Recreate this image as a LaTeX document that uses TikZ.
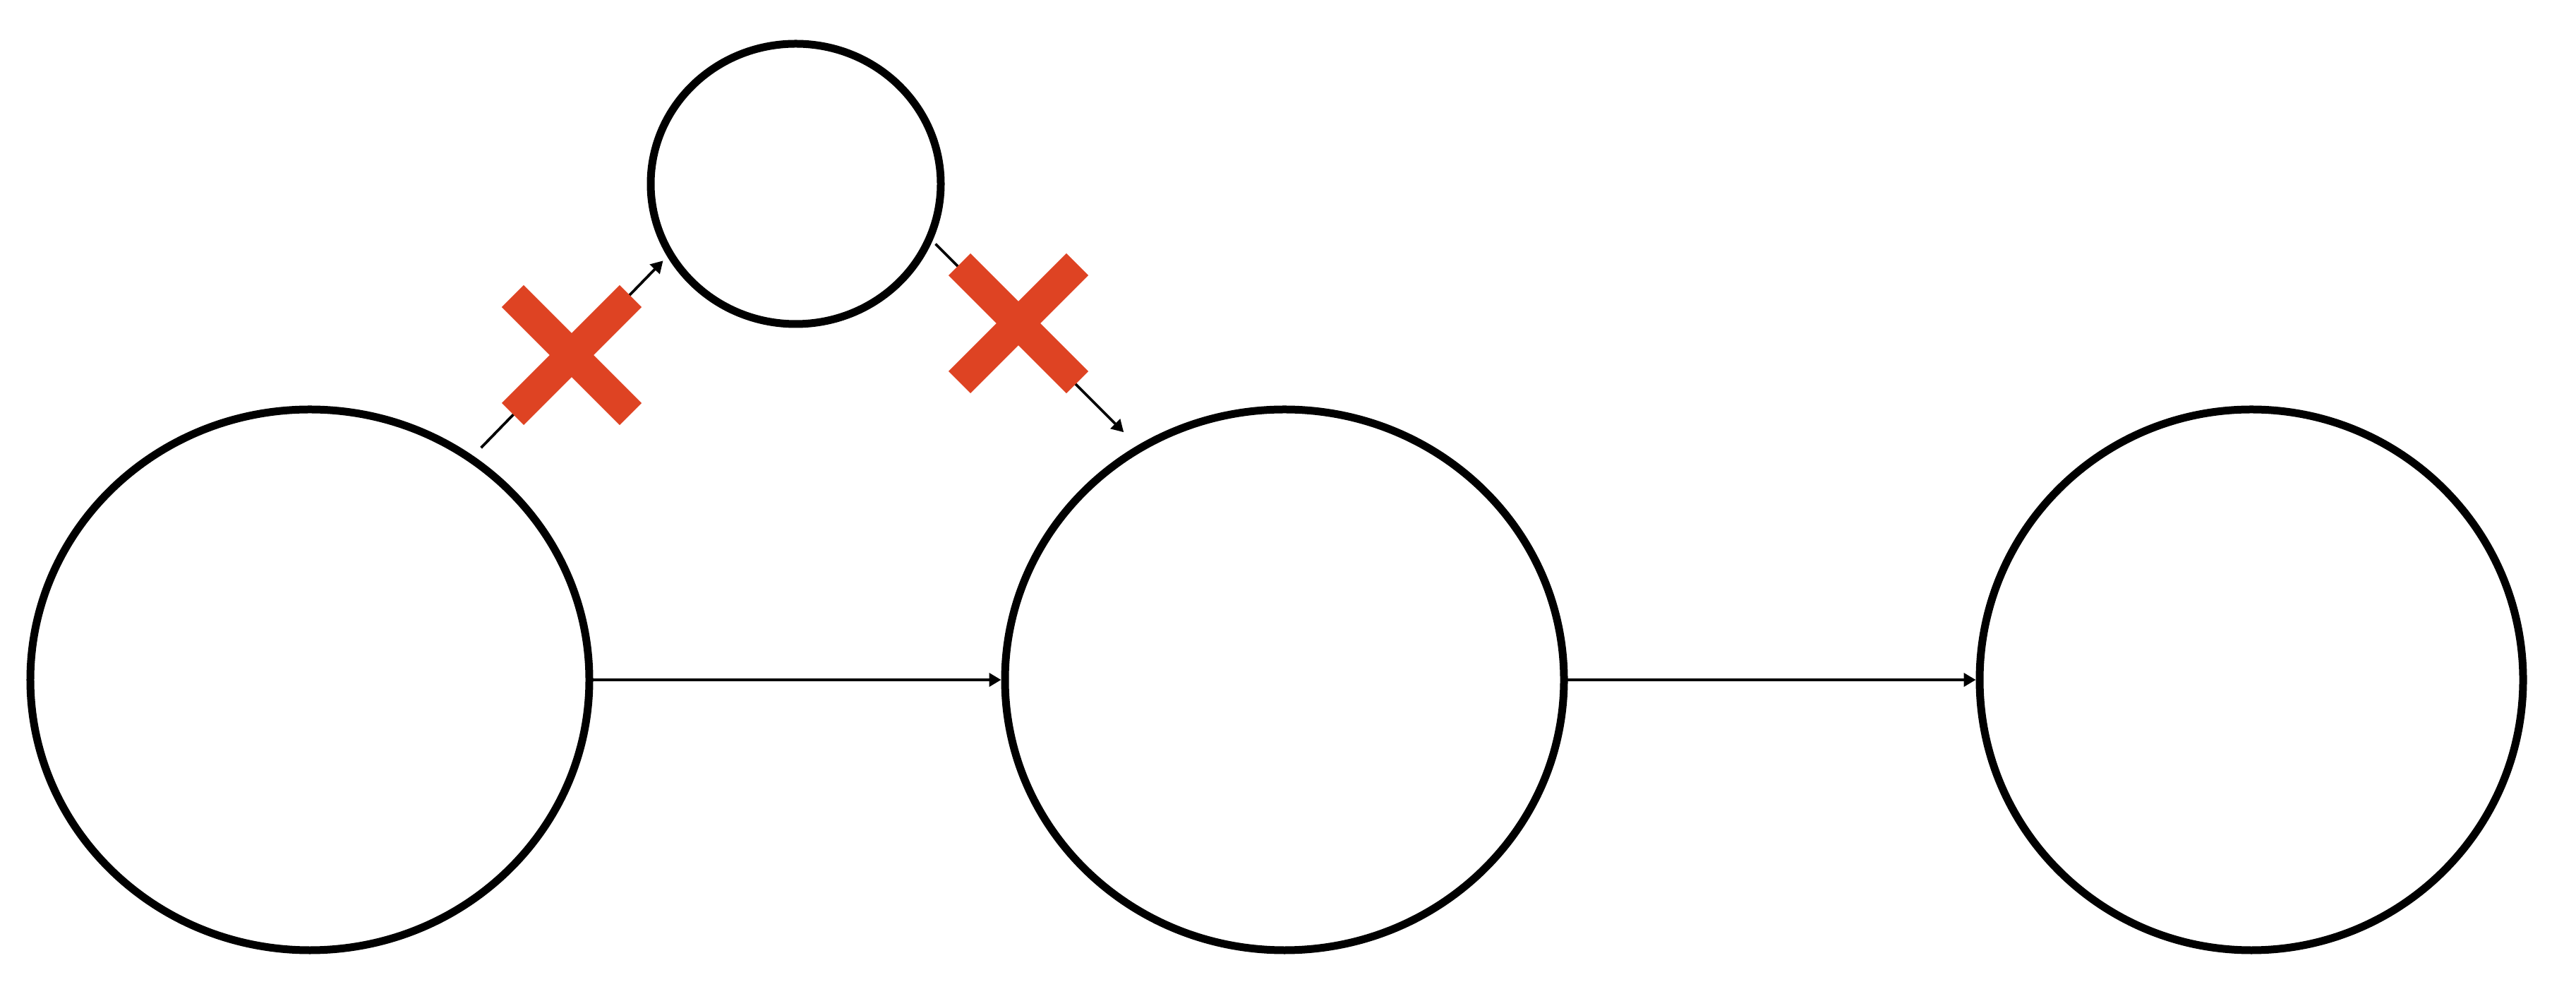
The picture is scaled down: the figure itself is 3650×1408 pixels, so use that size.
\documentclass[tikz,border=0pt]{standalone}
\usetikzlibrary{shapes.geometric,arrows.meta}
\definecolor{crossred}{RGB}{222,67,35}
\begin{document}
\begin{tikzpicture}[x=0.2pt,y=-0.2pt,
  big/.style={ellipse,draw,line width=2.2pt,minimum width=158.4pt,minimum height=153.2pt,inner sep=0pt,outer sep=0pt},
  small/.style={ellipse,draw,line width=2.2pt,minimum width=82.2pt,minimum height=79.4pt,inner sep=0pt,outer sep=0pt},
  conn/.style={line width=0.75pt,-{Triangle[length=3.4pt,width=3.8pt]}},
  crossbar/.style={line width=8.8pt,draw=crossred,line cap=butt}]
\useasboundingbox (0,0) rectangle (3650,1408);
\node[big] (L) at (439,963) {};
\node[big] (M) at (1820,963) {};
\node[big,minimum width=154pt] (R) at (3190,963) {};
\node[small] (T) at (1127.5,260.5) {};
\draw[conn,shorten >=1.1pt] (L.east) -- (M.west);
\draw[conn,shorten >=1.1pt] (M.east) -- (R.west);
\draw[conn,shorten <=4.3pt,shorten >=2.8pt] (L.54.3) -- (T.209.9);
\draw[conn,shorten <=2.4pt,shorten >=6.5pt] (T.-22.4) -- (M.122.15);
\coordinate (x1) at (810,503);
\coordinate (x2) at (1443,458);
\draw[crossbar] (x1) ++(-83.5,-83.5) -- ++(167,167);
\draw[crossbar] (x1) ++(-83.5,83.5) -- ++(167,-167);
\draw[crossbar] (x2) ++(-83.5,-83.5) -- ++(167,167);
\draw[crossbar] (x2) ++(-83.5,83.5) -- ++(167,-167);
\end{tikzpicture}
\end{document}
